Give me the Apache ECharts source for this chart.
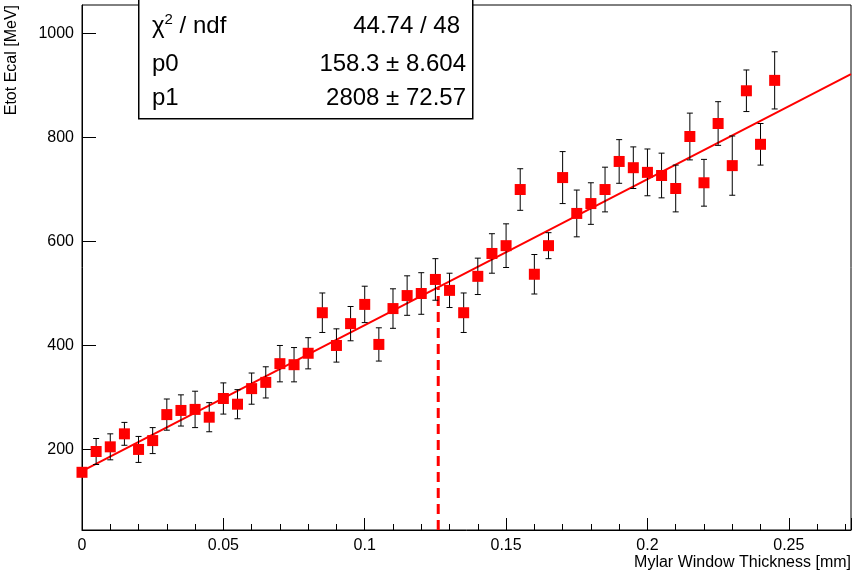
<!DOCTYPE html>
<html><head><meta charset="utf-8">
<script src="https://cdn.jsdelivr.net/npm/echarts@6/dist/echarts.min.js"></script>
<style>html,body{margin:0;padding:0;background:#fff}#c{width:854px;height:575px}</style>
</head><body><div id="c"></div>
<script>
const xs = [0,0.005,0.01,0.015,0.02,0.025,0.03,0.035,0.04,0.045,0.05,0.055,0.06,0.065,0.07,0.075,0.08,0.085,0.09,0.095,0.1,0.105,0.11,0.115,0.12,0.125,0.13,0.135,0.14,0.145,0.15,0.155,0.16,0.165,0.17,0.175,0.18,0.185,0.19,0.195,0.2,0.205,0.21,0.215,0.22,0.225,0.23,0.235,0.24,0.245];
const ys = [156,196,205,230,200,217,267,275,277,262,298,287,317,329,365,363,385,463,400,442,479,402,471,496,500,527,506,463,533,577,592,700,537,592,723,654,673,700,754,742,733,727,702,802,713,827,746,890,787,910];
const errs = [0,25,25,22,25,25,30,30,35,28,30,28,30,30,35,33,30,38,32,33,35,32,38,38,40,40,33,38,35,38,42,40,38,25,50,45,40,43,42,40,45,43,45,45,45,42,57,40,40,55];
const p0 = 158.3, p1 = 2808;
const fitX = [0, 0.272];
const cutX = 0.126;
const yTicks = [200,400,600,800,1000];

const chart = echarts.init(document.getElementById('c'));
const pts = xs.map((x,i)=>[x,ys[i]]);
const ebar = xs.map((x,i)=>[x,ys[i]-errs[i],ys[i]+errs[i]]);
const font = 'Liberation Sans, Arial, sans-serif';
chart.setOption({
  animation:false,
  grid:{left:82,right:3,top:5,bottom:45,show:true,borderColor:'#000',borderWidth:1,outerBoundsMode:'none',containLabel:false},
  xAxis:{type:'value',min:0,max:0.272,interval:0.05,
    name:'Mylar Window Thickness [mm]',nameLocation:'end',nameGap:0,
    nameTextStyle:{fontFamily:font,fontSize:16,color:'#000',align:'right',verticalAlign:'top',padding:[25,0,0,0]},
    axisLine:{lineStyle:{color:'#000'}},axisTick:{inside:true,length:12,lineStyle:{color:'#000'}},
    minorTick:{show:true,splitNumber:5,length:6,lineStyle:{color:'#000'}},
    axisLabel:{fontFamily:font,fontSize:16,color:'#000',margin:8,showMaxLabel:false,formatter:v=>String(+v.toFixed(2))},
    splitLine:{show:false}},
  yAxis:{type:'value',min:45,max:1055,
    name:'Etot Ecal [MeV]',nameLocation:'end',nameRotate:90,nameGap:0,
    nameTextStyle:{fontFamily:font,fontSize:16,color:'#000',align:'right',verticalAlign:'bottom',padding:[0,0,62,0]},
    axisLine:{lineStyle:{color:'#000'}},
    axisTick:{inside:true,length:14,customValues:yTicks,lineStyle:{color:'#000'}},
    axisLabel:{fontFamily:font,fontSize:16,color:'#000',customValues:yTicks,margin:8,formatter:v=>String(v)},
    splitLine:{show:false}},
  series:[
    {type:'line',data:fitX.map(x=>[x,p0+p1*x]),symbol:'none',lineStyle:{color:'#f00',width:2},z:2},
    {type:'line',data:[[cutX,45],[cutX,p0+p1*cutX]],symbol:'none',lineStyle:{color:'#f00',width:3,type:[10,6]},z:2},
    {type:'custom',data:ebar,z:3,renderItem:(params,api)=>{
      const x=api.value(0),lo=api.coord([x,api.value(1)]),hi=api.coord([x,api.value(2)]);
      const s={stroke:'#000',lineWidth:1};
      return {type:'group',children:[
        {type:'line',shape:{x1:lo[0],y1:lo[1],x2:hi[0],y2:hi[1]},style:s},
        {type:'line',shape:{x1:lo[0]-3,y1:lo[1],x2:lo[0]+3,y2:lo[1]},style:s},
        {type:'line',shape:{x1:hi[0]-3,y1:hi[1],x2:hi[0]+3,y2:hi[1]},style:s}]};
    }},
    {type:'scatter',data:pts,symbol:'rect',symbolSize:11,itemStyle:{color:'#f00',opacity:1},z:4}
  ],
  graphic:[
    {type:'rect',left:138,top:-2,shape:{width:334,height:120},style:{fill:'#fff',stroke:'#000',lineWidth:1.5},z:10},
    {type:'text',left:152,top:12,z:11,style:{text:'{a|χ}{s|2}{a| / ndf}',rich:{a:{fontFamily:font,fontSize:24,fill:'#000'},s:{fontFamily:font,fontSize:15,fill:'#000',verticalAlign:'top',padding:[0,0,14,0]}}}},
    {type:'text',right:854-460,top:14,z:11,style:{text:'44.74 / 48',font:'24px '+font,fill:'#000',align:'right'}},
    {type:'text',left:152,top:52,z:11,style:{text:'p0',font:'24px '+font,fill:'#000'}},
    {type:'text',right:854-466,top:52,z:11,style:{text:'158.3 ± 8.604',font:'24px '+font,fill:'#000'}},
    {type:'text',left:152,top:86,z:11,style:{text:'p1',font:'24px '+font,fill:'#000'}},
    {type:'text',right:854-466,top:86,z:11,style:{text:'2808 ± 72.57',font:'24px '+font,fill:'#000'}}
  ]
});
</script></body></html>
